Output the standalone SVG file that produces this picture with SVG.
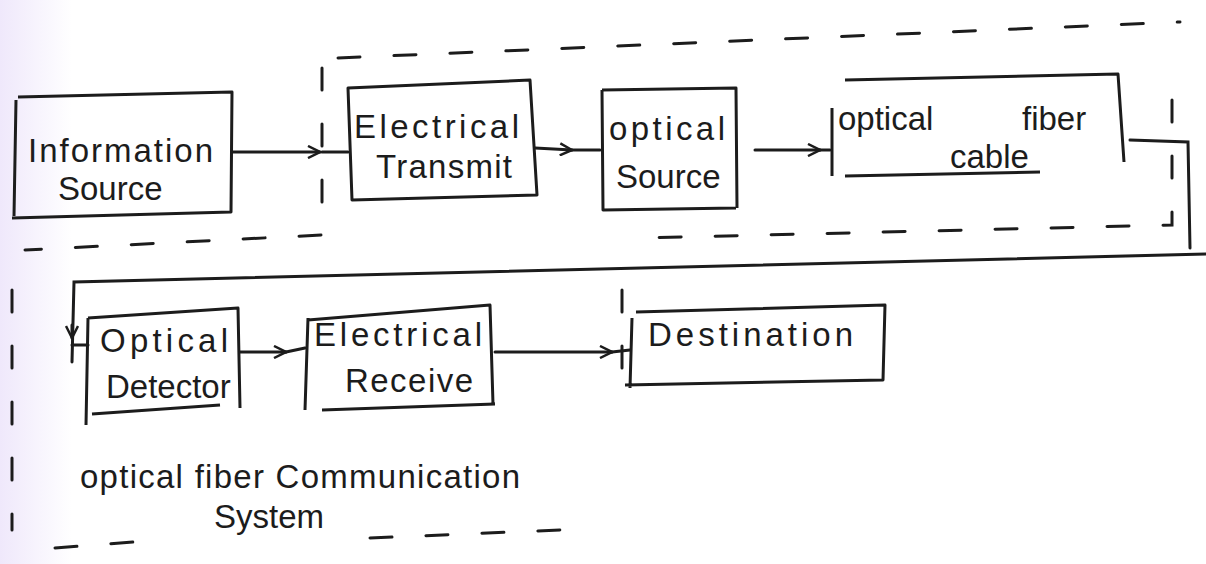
<svg xmlns="http://www.w3.org/2000/svg" width="1206" height="564" viewBox="0 0 1206 564">
<defs>
<style>
.box{fill:none;stroke:#1c1c1c;stroke-width:3;stroke-linejoin:round}
.ln{fill:none;stroke:#1c1c1c;stroke-width:3;stroke-linecap:round}
.dash{fill:none;stroke:#1c1c1c;stroke-width:3;stroke-linecap:round;stroke-dasharray:22 34}
.t{font-family:"Liberation Sans",Arial,sans-serif;font-size:33px;fill:#1c1c1c}
</style>
<marker id="ah" viewBox="0 0 14 14" refX="13" refY="7" markerWidth="14" markerHeight="14" markerUnits="userSpaceOnUse" orient="auto">
<path d="M1,1 L13,7 L1,13" fill="none" stroke="#1c1c1c" stroke-width="2.5"/>
</marker>
<linearGradient id="bg" x1="0" y1="0" x2="1" y2="0">
<stop offset="0" stop-color="#efe8fb"/>
<stop offset="0.06" stop-color="#ffffff"/>
</linearGradient>
</defs>
<rect width="1206" height="564" fill="url(#bg)"/>

<g id="boundaries">
<path class="dash" d="M338,58 L1180,22"/>
<path class="dash" d="M322,68 L322,235 L25,250"/>
<path class="dash" d="M1172,100 L1172,225 L640,238"/>
<path class="dash" d="M12,290 L12,530"/>
<path class="dash" d="M55,548 L160,540"/>
<path class="dash" d="M370,538 L560,530"/>
<path class="dash" d="M622,290 L622,400"/>
</g>

<g id="connectors">
<path class="ln" d="M232,152 L320,152" marker-end="url(#ah)"/>
<path class="ln" d="M322,152 L348,152"/>
<path class="ln" d="M535,148 L572,150" marker-end="url(#ah)"/>
<path class="ln" d="M572,150 L600,150"/>
<path class="ln" d="M755,150 L820,150" marker-end="url(#ah)"/>
<path class="ln" d="M820,150 L830,150"/>
<path class="ln" d="M1130,140 L1188,142 L1190,248"/>
<path class="ln" d="M1206,254 L74,282 L72,362"/>
<path class="ln" d="M72,325 L72,338" marker-end="url(#ah)"/>
<path class="ln" d="M72,345 L88,345"/>
<path class="ln" d="M240,352 L286,352" marker-end="url(#ah)"/>
<path class="ln" d="M286,352 L305,348"/>
<path class="ln" d="M495,352 L612,352" marker-end="url(#ah)"/>
<path class="ln" d="M612,352 L630,350"/>
</g>

<g id="information-source">
<path class="box" d="M18,97 L232,92 L231,212 L12,218 M16,100 L14,216"/>
<text class="t" x="28" y="162" textLength="185">Information</text>
<text class="t" x="58" y="200">Source</text>
</g>

<g id="electrical-transmit">
<path class="box" d="M348,88 L530,80 L537,195 L352,200 Z"/>
<text class="t" x="354" y="138" textLength="165">Electrical</text>
<text class="t" x="376" y="178" textLength="136">Transmit</text>
</g>

<g id="optical-source">
<path class="box" d="M602,90 L736,88 L737,208 M602,90 L603,210 L736,208"/>
<text class="t" x="609" y="140" textLength="116">optical</text>
<text class="t" x="616" y="188">Source</text>
</g>

<g id="optical-fiber-cable">
<path class="box" d="M845,80 L1118,74 L1124,162 M832,108 L832,176 M845,176 L1040,172"/>
<text class="t" x="838" y="130"><tspan>optical</tspan><tspan x="1022">fiber</tspan></text>
<text class="t" x="950" y="168">cable</text>
</g>

<g id="optical-detector">
<path class="box" d="M88,318 L238,308 L240,408 M88,318 L86,425 M92,414 L220,405"/>
<text class="t" x="100" y="352" textLength="128">Optical</text>
<text class="t" x="106" y="398">Detector</text>
</g>

<g id="electrical-receive">
<path class="box" d="M308,320 L490,305 L493,404 M308,318 L305,410 M322,410 L495,404"/>
<text class="t" x="314" y="346" textLength="168">Electrical</text>
<text class="t" x="345" y="392" textLength="128">Receive</text>
</g>

<g id="destination">
<path class="box" d="M636,312 L885,305 L883,380 L625,385 M632,318 L630,388"/>
<text class="t" x="648" y="346" textLength="205">Destination</text>
</g>

<g id="title">
<text class="t" x="80" y="488" textLength="440">optical fiber  Communication</text>
<text class="t" x="214" y="528">System</text>
</g>
</svg>
